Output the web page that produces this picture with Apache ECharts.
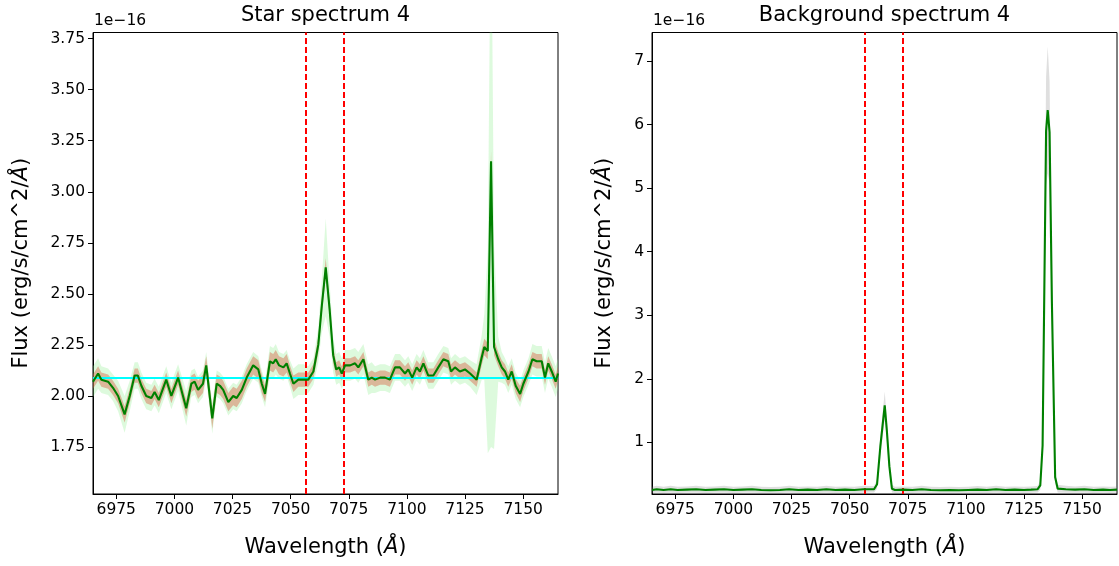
<!DOCTYPE html>
<html><head><meta charset="utf-8">
<script src="https://cdn.jsdelivr.net/npm/echarts@6/dist/echarts.min.js"></script>
<style>html,body{margin:0;padding:0;background:#fff}#c{width:1119px;height:566px}</style>
</head><body><div id="c"></div>
<script>
// ---------- data (flux in units of 1e-16 erg/s/cm^2/Å) ----------
const starWave = [6965.0,6967.2,6968.6,6971.5,6973.6,6975.8,6978.6,6980.8,6982.9,6984.3,
6985.8,6987.9,6990.1,6991.5,6993.3,6996.5,6998.7,7001.6,7005.1,7007.3,
7008.7,7010.2,7012.3,7013.7,7016.3,7018.2,7019.6,7021.0,7023.2,7025.3,
7026.8,7029.0,7031.1,7033.9,7036.1,7037.6,7039.0,7041.1,7042.5,7043.6,
7045.0,7046.9,7048.3,7049.7,7051.2,7053.3,7055.5,7057.6,7059.8,7061.9,
7063.4,7065.1,7066.8,7068.3,7069.6,7070.9,7072.0,7073.4,7075.6,7077.7,
7079.1,7081.3,7083.4,7084.9,7086.3,7088.5,7090.6,7092.7,7094.9,7097.0,
7099.2,7100.6,7102.3,7104.2,7105.6,7107.1,7109.2,7111.4,7113.5,7115.7,
7117.8,7119.0,7120.7,7122.8,7125.0,7127.2,7130.0,7132.2,7133.3,7134.8,
7136.2,7137.5,7139.3,7140.8,7142.2,7143.6,7145.1,7146.8,7148.7,7150.1,
7152.3,7154.0,7155.8,7158.0,7159.4,7160.8,7162.3,7164.0,7165.0];
const starFlux = [2.07,2.11,2.08,2.07,2.04,2.00,1.91,2.00,2.10,2.10,
2.05,2.00,1.99,2.02,1.98,2.08,2.00,2.09,1.94,2.06,
2.07,2.03,2.06,2.15,1.89,2.06,2.05,2.03,1.97,2.00,
1.99,2.03,2.09,2.15,2.13,2.06,2.01,2.17,2.16,2.18,
2.15,2.14,2.16,2.11,2.06,2.08,2.08,2.08,2.12,2.25,
2.44,2.63,2.42,2.20,2.13,2.14,2.11,2.15,2.15,2.16,
2.14,2.18,2.08,2.09,2.08,2.09,2.09,2.08,2.14,2.14,
2.11,2.13,2.09,2.14,2.12,2.16,2.10,2.10,2.14,2.18,
2.17,2.12,2.14,2.12,2.13,2.11,2.08,2.19,2.24,2.22,
3.15,2.24,2.18,2.14,2.12,2.08,2.12,2.05,2.01,2.06,
2.12,2.18,2.17,2.17,2.09,2.16,2.12,2.07,2.11];
const starErrRed = [0.035,0.035,0.035,0.035,0.035,0.035,0.04,0.035,0.035,0.035,
0.035,0.035,0.035,0.035,0.035,0.035,0.035,0.035,0.04,0.04,
0.04,0.045,0.045,0.045,0.05,0.045,0.045,0.045,0.045,0.045,
0.045,0.045,0.045,0.045,0.045,0.045,0.04,0.045,0.045,0.045,
0.045,0.045,0.045,0.04,0.04,0.035,0.035,0.035,0.035,0.04,
0.04,0.045,0.04,0.04,0.035,0.035,0.035,0.035,0.035,0.035,
0.035,0.035,0.035,0.035,0.035,0.035,0.035,0.035,0.035,0.035,
0.035,0.035,0.035,0.035,0.035,0.035,0.035,0.035,0.035,0.035,
0.035,0.035,0.035,0.035,0.035,0.035,0.035,0.04,0.04,0.04,
0.05,0.04,0.035,0.035,0.035,0.035,0.035,0.035,0.04,0.035,
0.035,0.035,0.035,0.035,0.035,0.035,0.035,0.035,0.035];
const starErrGreen = [0.075,0.075,0.065,0.065,0.065,0.075,0.09,0.075,0.065,0.065,
0.065,0.065,0.065,0.065,0.065,0.065,0.065,0.065,0.085,0.065,
0.065,0.065,0.065,0.065,0.075,0.065,0.065,0.065,0.065,0.065,
0.065,0.065,0.065,0.065,0.065,0.065,0.065,0.075,0.075,0.075,
0.065,0.065,0.065,0.065,0.075,0.075,0.075,0.065,0.065,0.085,
0.13,0.24,0.13,0.085,0.075,0.075,0.075,0.075,0.075,0.075,
0.075,0.075,0.075,0.075,0.065,0.065,0.065,0.065,0.065,0.065,
0.065,0.065,0.065,0.065,0.065,0.065,0.065,0.065,0.065,0.065,
0.065,0.065,0.065,0.065,0.065,0.065,0.075,0.11,0.16,0.50,
1.40,0.50,0.11,0.075,0.065,0.065,0.065,0.065,0.065,0.065,
0.065,0.075,0.075,0.075,0.075,0.075,0.075,0.075,0.075];
const continuumLevel = 2.09;

const bgWave = [6965,6967,6970,6973,6976,6980,6984,6988,6992,6996,
7000,7004,7008,7012,7016,7020,7024,7028,7032,7036,
7040,7044,7048,7052,7056,7058.5,7060.5,7061.8,7063.2,7065.1,
7066.0,7067.1,7068.2,7069.5,
7073,7077,7081,7085,7089,7093,7097,7101,7105,7109,
7113,7117,7121,7125,7128,7130.8,
7132.0,7133.0,7134.5,7135.2,7136.0,7137.0,7138.4,7139.5,
7143,7147,7151,7155,7159,7162,7165];
const bgFlux = [0.25,0.26,0.25,0.26,0.25,0.255,0.26,0.25,0.255,0.26,
0.25,0.255,0.26,0.25,0.245,0.25,0.26,0.25,0.255,0.25,
0.26,0.25,0.255,0.25,0.26,0.26,0.26,0.34,0.93,1.58,
1.19,0.62,0.27,0.25,
0.255,0.25,0.26,0.25,0.245,0.25,0.245,0.25,0.255,0.25,
0.26,0.25,0.255,0.25,0.255,0.26,
0.32,0.95,5.90,6.23,5.88,3.20,0.45,0.27,
0.26,0.255,0.26,0.25,0.255,0.25,0.255];
const bgErr = [0.05,0.055,0.05,0.055,0.05,0.05,0.055,0.05,0.05,0.055,
0.05,0.05,0.055,0.05,0.05,0.05,0.055,0.05,0.05,0.05,
0.055,0.05,0.05,0.05,0.055,0.05,0.05,0.07,0.15,0.22,
0.17,0.10,0.06,0.05,
0.05,0.05,0.055,0.05,0.05,0.05,0.05,0.05,0.055,0.05,
0.055,0.05,0.05,0.05,0.05,0.05,
0.07,0.15,0.85,1.00,0.80,0.40,0.09,0.06,
0.055,0.05,0.055,0.05,0.05,0.05,0.05];

const regionLines = [7056.7, 7072.7];
const xTicks = [6975,7000,7025,7050,7075,7100,7125,7150];
const yTicksStar = [1.75,2.00,2.25,2.50,2.75,3.00,3.25,3.50,3.75];
const yTicksBg = [1,2,3,4,5,6,7];

// ---------- chart ----------
const FF = '"DejaVu Sans", sans-serif';
const chart = echarts.init(document.getElementById('c'), null, {renderer:'canvas'});
const zip = (a,b) => a.map((v,i)=>[v,b[i]]);

function band(idx, xs, c, s, color, z){
  return {type:'custom', xAxisIndex:idx, yAxisIndex:idx, z:z, silent:true, clip:true,
    animation:false, data:[[xs[0], c[0]]], encode:{x:0, y:1},
    renderItem:(params, api)=>{
      const pts=[];
      for(let i=0;i<xs.length;i++) pts.push(api.coord([xs[i], c[i]+s[i]]));
      for(let i=xs.length-1;i>=0;i--) pts.push(api.coord([xs[i], c[i]-s[i]]));
      return {type:'polygon', shape:{points:pts}, style:{fill:color, stroke:null}};
    }};
}
function xAx(idx){
  return {gridIndex:idx, type:'value', min:6965, max:7165,
    axisLine:{show:true, onZero:false, lineStyle:{color:'#000', width:1}},
    axisTick:{show:true, length:5, lineStyle:{color:'#000', width:1}, customValues:xTicks},
    axisLabel:{customValues:xTicks, color:'#000', fontSize:15.5, margin:8, fontFamily:FF, formatter:v=>String(v)},
    splitLine:{show:false},
    name:'Wavelength ({a|Å})', nameLocation:'middle', nameGap:43,
    nameTextStyle:{fontSize:21, color:'#000', fontFamily:FF,
      rich:{a:{fontStyle:'italic', fontSize:21, color:'#000', fontFamily:FF}}}};
}
function yAx(idx, min, max, ticks, fmt, gap){
  return {gridIndex:idx, type:'value', min:min, max:max,
    axisLine:{show:true, onZero:false, lineStyle:{color:'#000', width:1}},
    axisTick:{show:true, length:5, lineStyle:{color:'#000', width:1}, customValues:ticks},
    axisLabel:{customValues:ticks, color:'#000', fontSize:15.5, margin:8, fontFamily:FF, formatter:fmt},
    splitLine:{show:false},
    name:'Flux (erg/s/cm^2/{a|Å})', nameLocation:'middle', nameGap:gap, nameRotate:90,
    nameTextStyle:{fontSize:21, color:'#000', fontFamily:FF,
      rich:{a:{fontStyle:'italic', fontSize:21, color:'#000', fontFamily:FF}}}};
}
function marks(idx, withCyan){
  const s = [{type:'line', xAxisIndex:idx, yAxisIndex:idx, z:20, data:[], showSymbol:false, silent:true,
    markLine:{silent:true, symbol:['none','none'], label:{show:false}, animation:false,
      lineStyle:{color:'#ff0000', type:[6,3], width:2},
      data: regionLines.map(v=>({xAxis:v}))}}];
  if(withCyan) s.push({type:'line', xAxisIndex:idx, yAxisIndex:idx, z:15, data:[], showSymbol:false, silent:true,
    markLine:{silent:true, symbol:['none','none'], label:{show:false}, animation:false,
      lineStyle:{color:'#00ffff', type:'solid', width:2.2},
      data:[{yAxis:continuumLevel}]}});
  return s;
}

const option = {
  animation:false,
  backgroundColor:'#fff',
  grid:[
    {left:93, top:32.5, width:465, height:461.5, show:true, borderColor:'#000', borderWidth:1, backgroundColor:'transparent'},
    {left:652, top:32.5, width:465, height:461.5, show:true, borderColor:'#000', borderWidth:1, backgroundColor:'transparent'}
  ],
  xAxis:[xAx(0), xAx(1)],
  yAxis:[
    yAx(0, 1.52, 3.78, yTicksStar, v=>v.toFixed(2), 60.5),
    yAx(1, 0.186, 7.45, yTicksBg, v=>String(Math.round(v)), 36.5)
  ],
  graphic:[
    {type:'text', x:325.5, y:16, silent:true, style:{text:'Star spectrum 4', fontSize:21, fontFamily:FF, fill:'#000', align:'center', verticalAlign:'middle'}},
    {type:'text', x:884.5, y:16, silent:true, style:{text:'Background spectrum 4', fontSize:21, fontFamily:FF, fill:'#000', align:'center', verticalAlign:'middle'}},
    {type:'text', x:94, y:20.5, silent:true, style:{text:'1e\u221216', fontSize:15.5, fontFamily:FF, fill:'#000', align:'left', verticalAlign:'middle'}},
    {type:'text', x:653, y:20.5, silent:true, style:{text:'1e\u221216', fontSize:15.5, fontFamily:FF, fill:'#000', align:'left', verticalAlign:'middle'}}
  ],
  series:[
    band(0, starWave, starFlux, starErrGreen, 'rgba(144,238,144,0.3)', 1),
    band(0, starWave, starFlux, starErrRed, 'rgba(215,90,60,0.42)', 2),
    {type:'line', xAxisIndex:0, yAxisIndex:0, z:5, data:zip(starWave, starFlux), showSymbol:false, silent:true,
      lineStyle:{color:'#008000', width:2.1}},
    ...marks(0, true),
    band(1, bgWave, bgFlux, bgErr, 'rgba(128,128,128,0.25)', 1),
    {type:'line', xAxisIndex:1, yAxisIndex:1, z:5, data:zip(bgWave, bgFlux), showSymbol:false, silent:true,
      lineStyle:{color:'#008000', width:2.1}},
    ...marks(1, false)
  ]
};
chart.setOption(option);
</script></body></html>
